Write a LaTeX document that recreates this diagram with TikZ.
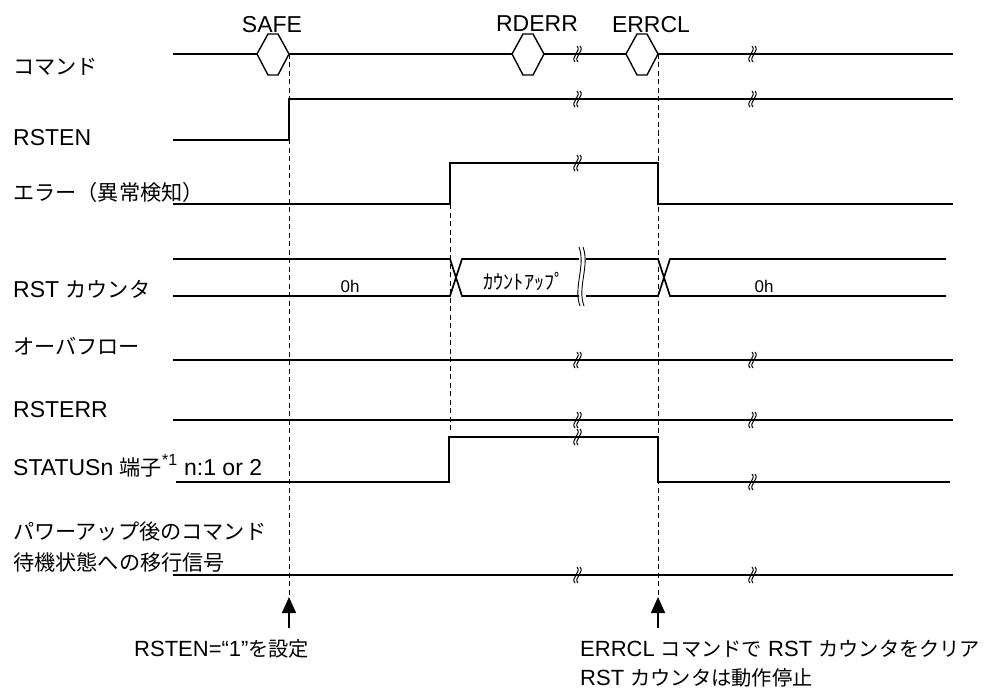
\documentclass[tikz,border=0pt]{standalone}
\usepackage{fontspec}
\setmainfont{Liberation Sans}
\newfontfamily\jp[Scale=0.92]{Noto Sans CJK JP}
\usetikzlibrary{calc}
\usetikzlibrary{arrows.meta}
\newcommand{\brkmark}[1]{%
\draw[line width=1pt] ($(#1)+(-2,8)$) .. controls ($(#1)+(-7,3)$) and ($(#1)+(5,-3)$) .. ($(#1)+(0,-8)$);
\draw[line width=1pt] ($(#1)+(1,8)$) .. controls ($(#1)+(-4,3)$) and ($(#1)+(8,-3)$) .. ($(#1)+(3,-8)$);}

\begin{document}
\begin{tikzpicture}[x=1pt,y=-1pt,
  sig/.style={line width=1.7pt},
  hex/.style={line width=1.4pt},
  guide/.style={line width=0.8pt,dash pattern=on 5pt off 3.5pt},
  lbl/.style={anchor=base west,inner sep=0pt,font=\fontsize{23}{28}\selectfont},
  cmdlbl/.style={anchor=base,inner sep=0pt,font=\fontsize{23}{28}\selectfont},
  note/.style={anchor=base west,inner sep=0pt,font=\fontsize{22}{27}\selectfont},
  val/.style={anchor=base,inner sep=0pt,font=\fontsize{17}{20}\selectfont},
  >={Triangle[length=16pt,width=14pt]}]
\useasboundingbox (0,0) rectangle (987,690);
\node[lbl] (cmd) at (13,75) {\jp コマンド};
\node[lbl] (rsten) at (13,145) {RSTEN};
\node[lbl] (err) at (13,200) {\jp エラー（異常検知）};
\node[lbl] (cnt) at (13,297) {RST {\jp カウンタ}};
\node[lbl] (ovf) at (13,354) {\jp オーバフロー};
\node[lbl] (rsterr) at (13,417) {RSTERR};
\node[lbl] (stat) at (13,475) {STATUSn {\jp 端子}\textsuperscript{*1} n:1 or 2};
\node[lbl] (pwrA) at (13,539) {\jp パワーアップ後のコマンド};
\node[lbl] (pwrB) at (13,570) {\jp 待機状態への移行信号};
\node[cmdlbl] (safe) at (272,33) {SAFE};
\node[cmdlbl] (rderr) at (537,32) {RDERR};
\node[cmdlbl] (errcl) at (651,33) {ERRCL};
\draw[sig] (173,54) -- (257,54) (289,54) -- (512,54) (544,54) -- (626,54) (658,54) -- (953,54);
\draw[hex] (257,54) -- ++(11,-20) -- ++(10,0) -- ++(11,20) -- ++(-11,21) -- ++(-10,0) -- cycle;
\draw[hex] (512,54) -- ++(11,-20) -- ++(10,0) -- ++(11,20) -- ++(-11,21) -- ++(-10,0) -- cycle;
\draw[hex] (626,54) -- ++(11,-20) -- ++(10,0) -- ++(11,20) -- ++(-11,21) -- ++(-10,0) -- cycle;
\draw[sig] (173,140) -- (289,140) -- (289,99) -- (953,99);
\draw[sig] (173,204) -- (450,204) -- (450,163) -- (658,163) -- (658,204) -- (953,204);
\draw[sig] (173,259) -- (450,259) -- (462,296) -- (579,296);
\draw[sig] (173,296) -- (450,296) -- (462,259) -- (579,259);
\draw[sig] (586,259) -- (658,259) -- (670,296) -- (946,296);
\draw[sig] (586,296) -- (658,296) -- (670,259) -- (946,259);
\draw[line width=0.9pt] (579,247) .. controls (586,266) and (573,287) .. (580,306);
\draw[line width=0.9pt] (583,247) .. controls (590,266) and (577,287) .. (584,306);
\node[val] (cntA) at (350,292) {0h};
\node[val,font=\fontsize{22}{26}\selectfont\jp] (cntup) at (524,289) {ｶｳﾝﾄｱｯﾌﾟ};
\node[val] (cntB) at (764,292) {0h};
\draw[sig] (173,360) -- (953,360);
\draw[sig] (173,420) -- (953,420);
\draw[sig] (176,482) -- (449,482) -- (449,437) -- (658,437) -- (658,482) -- (950,482);
\draw[sig] (173,575) -- (953,575);
\brkmark{577,54} \brkmark{577,99} \brkmark{577,163} \brkmark{577,360}
\brkmark{577,420} \brkmark{577,437} \brkmark{577,575}
\brkmark{752,54} \brkmark{752,99} \brkmark{752,360} \brkmark{752,420}
\brkmark{752,482} \brkmark{752,575}
\coordinate (safeTip) at (289,597);
\coordinate (safeTail) at (289,628);
\coordinate (clrTip) at (658,597);
\coordinate (clrTail) at (658,628);
\draw[guide] (289,54) -- (safeTip);
\draw[guide] (450,204) -- (450,430);
\draw[guide] (658,54) -- (clrTip);
\draw[->,line width=1.5pt] (safeTail) -- (safeTip);
\draw[->,line width=1.5pt] (clrTail) -- (clrTip);
\node[note] (setnote) at (134,656) {RSTEN=“1”{\jp を設定}};
\node[note] (clrnote) at (580,656) {ERRCL {\jp コマンドで} RST {\jp カウンタをクリア}};
\node[note] (stopnote) at (580,685) {RST {\jp カウンタは動作停止}};
\end{tikzpicture}
\end{document}
